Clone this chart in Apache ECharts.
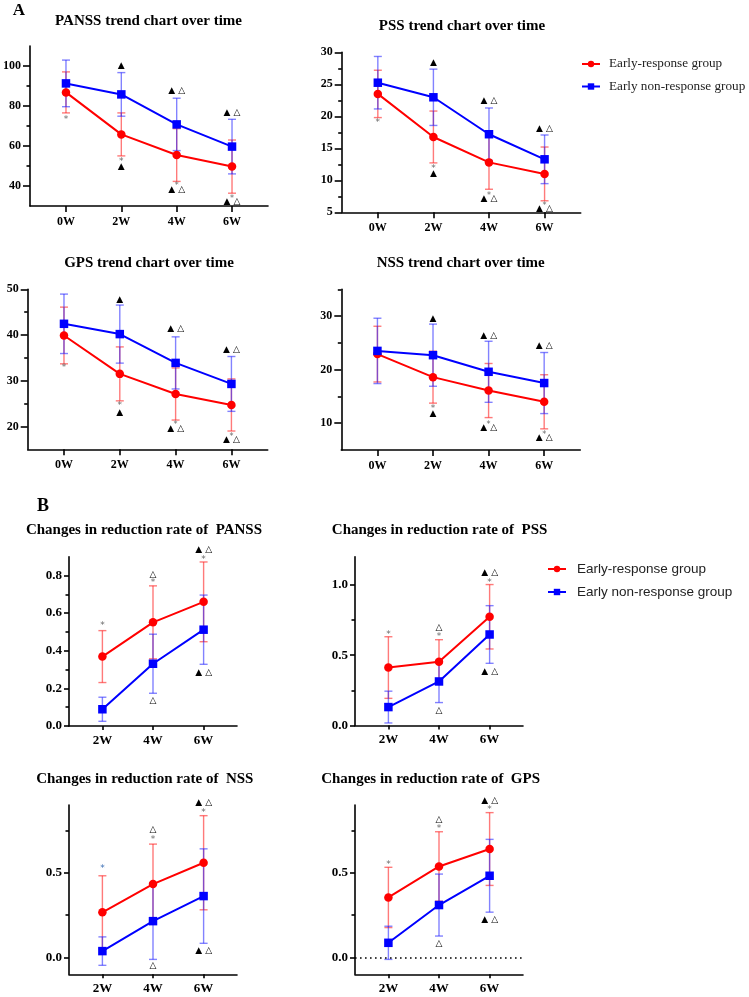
<!DOCTYPE html>
<html><head><meta charset="utf-8">
<script src="https://cdn.jsdelivr.net/npm/echarts@6/dist/echarts.min.js"></script>
<style>html,body{margin:0;padding:0;background:#fff}#c{width:749px;height:997px}</style>
</head><body><div id="c"></div>
<script>
// ---------- categories ----------
const weeksA = [0, 2, 4, 6];
const labelsA = ['0W', '2W', '4W', '6W'];
const weeksB = [2, 4, 6];
const labelsB = ['2W', '4W', '6W'];
const groupNames = ['Early-response group', 'Early non-response group'];

// ---------- A: scores over time (mean, SD) ----------
const pannsRespMean = [86.8, 65.8, 55.5, 49.7];
const pannsRespSD   = [10.25, 10.75, 13.2, 13.3];
const pannsNonMean  = [91.3, 85.8, 70.8, 59.7];
const pannsNonSD    = [11.65, 10.9, 13.1, 13.65];

const pssRespMean = [23.5, 16.77, 12.8, 11.0];
const pssRespSD   = [3.7, 4.05, 4.2, 4.2];
const pssNonMean  = [25.25, 22.97, 17.2, 13.28];
const pssNonSD    = [4.1, 4.4, 4.1, 3.8];

const gpsRespMean = [39.9, 31.5, 27.1, 24.7];
const gpsRespSD   = [6.2, 5.9, 5.7, 5.7];
const gpsNonMean  = [42.45, 40.2, 33.9, 29.3];
const gpsNonSD    = [6.5, 6.35, 5.7, 6.0];

const nssRespMean = [22.9, 18.6, 16.1, 14.0];
const nssRespSD   = [5.2, 4.85, 5.05, 5.05];
const nssNonMean  = [23.5, 22.7, 19.6, 17.5];
const nssNonSD    = [6.1, 5.8, 5.7, 5.7];

// ---------- B: reduction rates (mean, SD) ----------
const rPannsRespMean = [0.369, 0.551, 0.66];
const rPannsRespSD   = [0.138, 0.194, 0.212];
const rPannsNonMean  = [0.089, 0.331, 0.512];
const rPannsNonSD    = [0.064, 0.157, 0.184];

const rPssRespMean = [0.412, 0.453, 0.773];
const rPssRespSD   = [0.219, 0.157, 0.229];
const rPssNonMean  = [0.131, 0.313, 0.647];
const rPssNonSD    = [0.113, 0.15, 0.205];

const rNssRespMean = [0.266, 0.433, 0.559];
const rNssRespSD   = [0.216, 0.236, 0.278];
const rNssNonMean  = [0.037, 0.214, 0.362];
const rNssNonSD    = [0.084, 0.226, 0.279];

const rGpsRespMean = [0.354, 0.537, 0.64];
const rGpsRespSD   = [0.178, 0.205, 0.215];
const rGpsNonMean  = [0.086, 0.309, 0.482];
const rGpsNonSD    = [0.098, 0.183, 0.215];

// ---------- tick labels ----------
const pannsTicks = [40, 60, 80, 100], pannsMinor = [50, 70, 90];
const pssTicks = [5, 10, 15, 20, 25, 30], pssMinor = [7.5, 12.5, 17.5, 22.5, 27.5];
const gpsTicks = [20, 30, 40, 50], gpsMinor = [25, 35, 45];
const nssTicks = [10, 20, 30], nssMinor = [15, 25, 35];
const rPannsTicks = [0, 0.2, 0.4, 0.6, 0.8], rPannsMinor = [0.1, 0.3, 0.5, 0.7];
const rPssTicks = [0, 0.5, 1.0], rPssMinor = [0.25, 0.75];
const rNssTicks = [0, 0.5], rNssMinor = [0.25, 0.75];
const rGpsTicks = [0, 0.5], rGpsMinor = [0.25, 0.75];

// ---------- significance marks [week, value, kind] ----------
const pannsMarks = [[0,74.3,'s'],[2,100,'f'],[2,53.3,'s'],[2,49.7,'f'],[4,87.7,'fo'],[4,38.3,'fso'],[6,76.8,'fo'],[6,32.2,'fso']];
const pssMarks = [[0,19.3,'s'],[2,28.4,'f'],[2,12.1,'s'],[2,11.0,'f'],[4,22.4,'fo'],[4,7.1,'fso'],[6,18.0,'fo'],[6,5.6,'fso']];
const gpsMarks = [[0,33.2,'s'],[2,47.8,'f'],[2,25.0,'s'],[2,23.0,'f'],[4,41.4,'fo'],[4,19.6,'fso'],[6,36.7,'fo'],[6,17.1,'fso']];
const nssMarks = [[2,29.6,'f'],[2,13.1,'s'],[2,11.8,'f'],[4,26.3,'fo'],[4,9.2,'fso'],[6,24.5,'fo'],[6,7.3,'fso']];
const rPannsMarks = [[2,0.543,'s'],[4,0.807,'o'],[4,0.77,'s'],[4,0.135,'o'],[6,0.936,'fo'],[6,0.894,'s'],[6,0.284,'fo']];
const rPssMarks = [[2,0.661,'s'],[4,0.699,'o'],[4,0.647,'s'],[4,0.107,'o'],[6,1.085,'fo'],[6,1.033,'s'],[6,0.384,'fo']];
const rNssMarks = [[2,0.535,'sb'],[4,0.752,'o'],[4,0.707,'s'],[4,-0.051,'o'],[6,0.913,'fo'],[6,0.868,'s'],[6,0.041,'fo']];
const rGpsMarks = [[2,0.559,'s'],[4,0.811,'o'],[4,0.77,'s'],[4,0.083,'o'],[6,0.925,'fo'],[6,0.882,'s'],[6,0.22,'fo']];

// ---------- styling ----------
const SERIF = '"Liberation Serif", "Times New Roman", serif';
const SANS = '"Liberation Sans", Arial, sans-serif';
const SYM = '"DejaVu Sans", sans-serif';
const RED = '#ff0000', BLUE = '#0000ff';
const RED_ERR = 'rgba(255,40,40,0.62)', BLUE_ERR = 'rgba(40,40,255,0.58)';
const f1 = v => v.toFixed(1);
const fi = v => String(v);

const panels = [
  {title:'PANSS trend chart over time', tx:148.5, ty:21, grid:{left:28, top:46, width:240, height:160}, x:[-1.3,7.3], y:[30,110], major:pannsTicks, minor:pannsMinor, fmt:fi, weeks:weeksA, labels:labelsA, resp:[pannsRespMean,pannsRespSD], non:[pannsNonMean,pannsNonSD], marks:pannsMarks, tick:7, margin:9, fs:12},
  {title:'PSS trend chart over time', tx:462, ty:25.7, grid:{left:341.7, top:52.3, width:239, height:160}, x:[-1.3,7.3], y:[5,30], major:pssTicks, minor:pssMinor, fmt:fi, weeks:weeksA, labels:labelsA, resp:[pssRespMean,pssRespSD], non:[pssNonMean,pssNonSD], marks:pssMarks, tick:7, margin:9, fs:12},
  {title:'GPS trend chart over time', tx:149, ty:263.5, grid:{left:27.7, top:289.3, width:240, height:160}, x:[-1.3,7.3], y:[15,50], major:gpsTicks, minor:gpsMinor, fmt:fi, weeks:weeksA, labels:labelsA, resp:[gpsRespMean,gpsRespSD], non:[gpsNonMean,gpsNonSD], marks:gpsMarks, tick:7, margin:9, fs:12},
  {title:'NSS trend chart over time', tx:460.7, ty:263.3, grid:{left:341.3, top:289.3, width:239, height:160.7}, x:[-1.3,7.3], y:[5,35], major:nssTicks, minor:nssMinor, fmt:fi, weeks:weeksA, labels:labelsA, resp:[nssRespMean,nssRespSD], non:[nssNonMean,nssNonSD], marks:nssMarks, tick:7, margin:9, fs:12},
  {title:'Changes in reduction rate of  PANSS', tx:144, ty:530, grid:{left:69, top:556.7, width:168, height:169.3}, x:[0.68,7.32], y:[0,0.9], major:rPannsTicks, minor:rPannsMinor, fmt:f1, weeks:weeksB, labels:labelsB, resp:[rPannsRespMean,rPannsRespSD], non:[rPannsNonMean,rPannsNonSD], marks:rPannsMarks, tick:5, margin:7, fs:13},
  {title:'Changes in reduction rate of  PSS', tx:439.6, ty:530.3, grid:{left:355, top:556.7, width:168, height:168.8}, x:[0.68,7.32], y:[0,1.2], major:rPssTicks, minor:rPssMinor, fmt:f1, weeks:weeksB, labels:labelsB, resp:[rPssRespMean,rPssRespSD], non:[rPssNonMean,rPssNonSD], marks:rPssMarks, tick:5, margin:7, fs:13},
  {title:'Changes in reduction rate of  NSS', tx:144.8, ty:779, grid:{left:69, top:805, width:168, height:169.3}, x:[0.68,7.32], y:[-0.1,0.9], major:rNssTicks, minor:rNssMinor, fmt:f1, weeks:weeksB, labels:labelsB, resp:[rNssRespMean,rNssRespSD], non:[rNssNonMean,rNssNonSD], marks:rNssMarks, tick:5, margin:7, fs:13},
  {title:'Changes in reduction rate of  GPS', tx:430.6, ty:779, grid:{left:355, top:805, width:168, height:169.3}, x:[0.68,7.32], y:[-0.1,0.9], major:rGpsTicks, minor:rGpsMinor, fmt:f1, weeks:weeksB, labels:labelsB, resp:[rGpsRespMean,rGpsRespSD], non:[rGpsNonMean,rGpsNonSD], marks:rGpsMarks, tick:5, margin:7, fs:13, zeroLine:true}
];

function errRender(color) {
  return function (params, api) {
    const x = api.value(0), m = api.value(1), sd = api.value(2);
    const t = api.coord([x, m + sd]), b = api.coord([x, m - sd]);
    const cap = 4, st = {stroke: color, lineWidth: 1.4};
    return {type: 'group', children: [
      {type: 'line', shape: {x1: t[0], y1: t[1], x2: b[0], y2: b[1]}, style: st},
      {type: 'line', shape: {x1: t[0] - cap, y1: t[1], x2: t[0] + cap, y2: t[1]}, style: st},
      {type: 'line', shape: {x1: b[0] - cap, y1: b[1], x2: b[0] + cap, y2: b[1]}, style: st}
    ]};
  };
}

function txt(ch, x, y, size, col) {
  return {type: 'text', x: x, y: y, style: {text: ch, font: size + 'px ' + SYM, fill: col,
    align: 'center', verticalAlign: 'middle', textAlign: 'center', textVerticalAlign: 'middle'}};
}

function markRender(marks) {
  return function (params, api) {
    const m = marks[params.dataIndex];
    const c = api.coord([m[0], m[1]]);
    const k = [];
    const GR = '#6a6a6a';
    switch (m[2]) {
      case 'f': k.push(txt('▲', c[0], c[1], 9, '#000')); break;
      case 'o': k.push(txt('△', c[0], c[1], 9, '#000')); break;
      case 'fo': k.push(txt('▲', c[0] - 5, c[1], 9, '#000'), txt('△', c[0] + 5, c[1], 9, '#000')); break;
      case 'fso': k.push(txt('▲', c[0] - 5, c[1], 9, '#000'), txt('△', c[0] + 5, c[1], 9, '#000'), txt('*', c[0], c[1] - 3, 8, GR)); break;
      case 's': k.push(txt('*', c[0], c[1] + 2, 9, GR)); break;
      case 'sb': k.push(txt('*', c[0], c[1] + 2, 9, '#3d6fb5')); break;
    }
    return {type: 'group', children: k};
  };
}

const grids = [], xAxes = [], yAxes = [], series = [], graphics = [];
const axisLineStyle = {color: '#000', width: 1.6};

panels.forEach((p, i) => {
  grids.push(Object.assign({containLabel: false}, p.grid));
  xAxes.push({
    gridIndex: i, type: 'value', min: p.x[0], max: p.x[1],
    axisLine: {show: true, onZero: false, lineStyle: axisLineStyle},
    splitLine: {show: false},
    axisTick: {show: true, customValues: p.weeks, length: p.tick - 1, lineStyle: axisLineStyle},
    axisLabel: {customValues: p.weeks, formatter: v => p.labels[p.weeks.findIndex(w => Math.abs(w - v) < 1e-6)] || '',
      fontFamily: SERIF, fontWeight: 'bold', fontSize: p.fs, color: '#000', margin: p.margin + 1}
  });
  yAxes.push({
    gridIndex: i, type: 'value', min: p.y[0], max: p.y[1], position: 'left',
    axisLine: {show: true, onZero: false, lineStyle: axisLineStyle},
    splitLine: {show: false},
    axisTick: {show: true, customValues: p.major, length: p.tick, lineStyle: axisLineStyle},
    axisLabel: {customValues: p.major, formatter: p.fmt, fontFamily: SERIF, fontWeight: 'bold', fontSize: p.fs, color: '#000', margin: p.margin}
  });
  yAxes.push({
    gridIndex: i, type: 'value', min: p.y[0], max: p.y[1], position: 'left',
    axisLine: {show: false, onZero: false}, splitLine: {show: false}, axisLabel: {show: false},
    axisTick: {show: true, customValues: p.minor, length: 3.5, lineStyle: axisLineStyle}
  });
  const yi = 2 * i;
  series.push({type: 'custom', xAxisIndex: i, yAxisIndex: yi, renderItem: errRender(RED_ERR), z: 1,
    data: p.weeks.map((w, j) => [w, p.resp[0][j], p.resp[1][j]]), encode: {x: 0, y: 1}, silent: true});
  series.push({type: 'custom', xAxisIndex: i, yAxisIndex: yi, renderItem: errRender(BLUE_ERR), z: 1,
    data: p.weeks.map((w, j) => [w, p.non[0][j], p.non[1][j]]), encode: {x: 0, y: 1}, silent: true});
  series.push({type: 'line', name: groupNames[0], xAxisIndex: i, yAxisIndex: yi, z: 3,
    data: p.weeks.map((w, j) => [w, p.resp[0][j]]), symbol: 'circle', symbolSize: 8.5,
    lineStyle: {color: RED, width: 2}, itemStyle: {color: RED}});
  const blue = {type: 'line', name: groupNames[1], xAxisIndex: i, yAxisIndex: yi, z: 3,
    data: p.weeks.map((w, j) => [w, p.non[0][j]]), symbol: 'rect', symbolSize: 8.5,
    lineStyle: {color: BLUE, width: 2}, itemStyle: {color: BLUE}};
  if (p.zeroLine) {
    blue.markLine = {silent: true, symbol: 'none', label: {show: false}, animation: false,
      lineStyle: {type: [1.6, 3.4], color: '#000', width: 1.5}, data: [{yAxis: 0}]};
  }
  series.push(blue);
  series.push({type: 'custom', xAxisIndex: i, yAxisIndex: yi, renderItem: markRender(p.marks), z: 4, silent: true,
    data: p.marks.map(m => [m[0], m[1]]), encode: {x: 0, y: 1}});
  graphics.push({type: 'text', x: p.tx, y: p.ty, style: {text: p.title, font: 'bold 15px ' + SERIF, fill: '#000',
    align: 'center', verticalAlign: 'middle', textAlign: 'center', textVerticalAlign: 'middle'}});
});

graphics.push({type: 'text', x: 19, y: 11, style: {text: 'A', font: 'bold 17px ' + SERIF, fill: '#000',
  align: 'center', verticalAlign: 'middle', textAlign: 'center', textVerticalAlign: 'middle'}});
graphics.push({type: 'text', x: 43, y: 506, style: {text: 'B', font: 'bold 18px ' + SERIF, fill: '#000',
  align: 'center', verticalAlign: 'middle', textAlign: 'center', textVerticalAlign: 'middle'}});

const chart = echarts.init(document.getElementById('c'));
chart.setOption({
  animation: false,
  backgroundColor: '#fff',
  grid: grids, xAxis: xAxes, yAxis: yAxes, series: series, graphic: graphics,
  legend: [
    {data: groupNames, orient: 'vertical', left: 576, top: 52.5, itemWidth: 18, itemHeight: 8, itemGap: 9.5, selectedMode: false,
      textStyle: {fontFamily: SERIF, fontSize: 13.2, color: '#222', padding: [0, 0, 0, 4]}},
    {data: groupNames, orient: 'vertical', left: 542, top: 557, itemWidth: 18, itemHeight: 8, itemGap: 9, selectedMode: false,
      textStyle: {fontFamily: SANS, fontSize: 13.5, color: '#222', padding: [0, 0, 0, 6]}}
  ]
});
</script></body></html>
